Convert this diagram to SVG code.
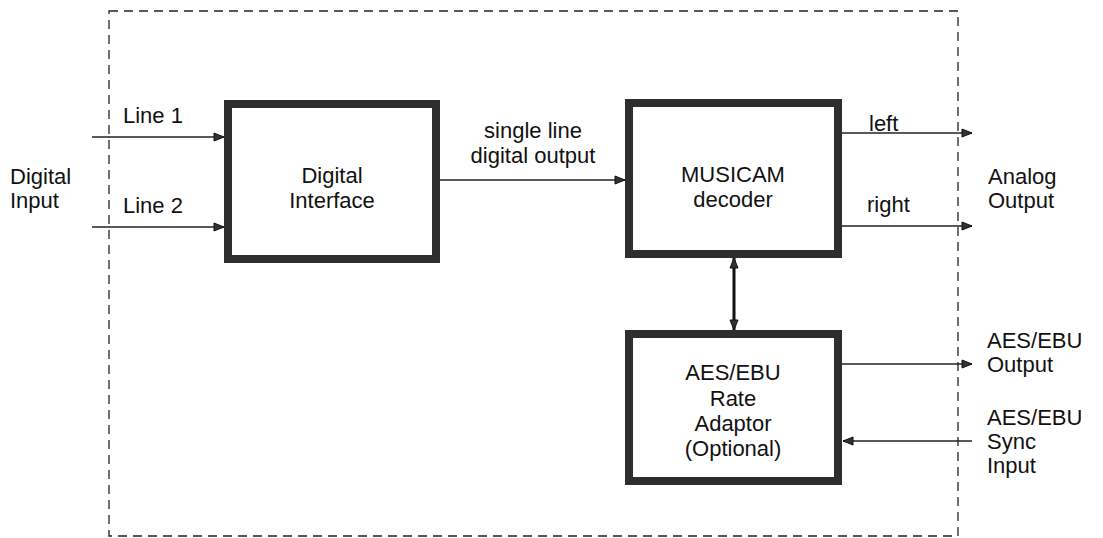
<svg xmlns="http://www.w3.org/2000/svg" width="1103" height="538" viewBox="0 0 1103 538">
<style>
text{font-family:"Liberation Sans",Arial,sans-serif;fill:#111;}
.lbl{font-size:22px;}
.box{font-size:22px;text-anchor:middle;}
.blk{fill:#fff;stroke:#2e2e2e;stroke-width:8;}
.ln{stroke:#222;stroke-width:1.6;fill:none;}
.thick{stroke:#111;stroke-width:3;fill:none;}
.frame{fill:none;stroke:#222;stroke-width:1.3;stroke-dasharray:9,6;}
</style>
<defs>
<marker id="ah" markerWidth="12" markerHeight="10" refX="11" refY="5" orient="auto" markerUnits="userSpaceOnUse">
<path d="M1,1 L11,5 L1,9 Z" fill="#333" stroke="#111" stroke-width="1"/>
</marker>
<marker id="ahs" markerWidth="12" markerHeight="10" refX="11" refY="5" orient="auto-start-reverse" markerUnits="userSpaceOnUse">
<path d="M1,1 L11,5 L1,9 Z" fill="#333" stroke="#111" stroke-width="1"/>
</marker>
</defs>
<rect class="frame" x="109" y="11" width="849" height="525"/>
<g id="connectors">
<line class="ln" x1="92" y1="137" x2="224" y2="137" marker-end="url(#ah)"/>
<line class="ln" x1="92" y1="227" x2="224" y2="227" marker-end="url(#ah)"/>
<line class="ln" x1="440" y1="180" x2="625" y2="180" marker-end="url(#ah)"/>
<line class="ln" x1="842" y1="133" x2="972" y2="133" marker-end="url(#ah)"/>
<line class="ln" x1="842" y1="226" x2="972" y2="226" marker-end="url(#ah)"/>
<line class="thick" x1="734" y1="258" x2="734" y2="330" marker-start="url(#ahs)" marker-end="url(#ahs)"/>
<line class="ln" x1="842" y1="364" x2="972" y2="364" marker-end="url(#ah)"/>
<line class="ln" x1="972" y1="441" x2="843" y2="441" marker-end="url(#ah)"/>
</g>
<g id="labels">
<text class="lbl" x="10" y="184">Digital</text>
<text class="lbl" x="10" y="208">Input</text>
<text class="lbl" x="123" y="123">Line  1</text>
<text class="lbl" x="123" y="213">Line  2</text>
<text class="lbl" x="533" y="138" text-anchor="middle">single  line</text>
<text class="lbl" x="533" y="163" text-anchor="middle">digital  output</text>
<text class="lbl" x="869" y="131">left</text>
<text class="lbl" x="867" y="212">right</text>
<text class="lbl" x="988" y="184">Analog</text>
<text class="lbl" x="988" y="208">Output</text>
<text class="lbl" x="987" y="348">AES/EBU</text>
<text class="lbl" x="987" y="372">Output</text>
<text class="lbl" x="987" y="425">AES/EBU</text>
<text class="lbl" x="987" y="449">Sync</text>
<text class="lbl" x="987" y="473">Input</text>
</g>
<g id="digital-interface">
<rect class="blk" x="228" y="104" width="208" height="155"/>
<text class="box" x="332" y="183">Digital</text>
<text class="box" x="332" y="208">Interface</text>
</g>
<g id="musicam-decoder">
<rect class="blk" x="629" y="103" width="209" height="151"/>
<text class="box" x="733" y="182">MUSICAM</text>
<text class="box" x="733" y="207">decoder</text>
</g>
<g id="aes-ebu-rate-adaptor">
<rect class="blk" x="629" y="334" width="209" height="147"/>
<text class="box" x="733" y="380">AES/EBU</text>
<text class="box" x="733" y="406">Rate</text>
<text class="box" x="733" y="431">Adaptor</text>
<text class="box" x="733" y="456">(Optional)</text>
</g>
</svg>
